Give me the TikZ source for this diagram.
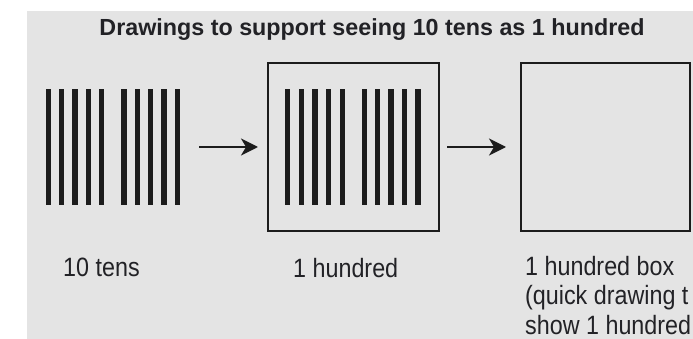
\documentclass[tikz,border=0pt]{standalone}
\usepackage{fontspec}
\setmainfont{Liberation Sans}
\newfontfamily\condfont[FakeStretch=0.88]{Liberation Sans}
\usetikzlibrary{arrows.meta}
\definecolor{bgc}{RGB}{228,228,228}
\definecolor{ink}{RGB}{28,28,28}
\definecolor{txt}{RGB}{34,34,38}
\tikzset{
  bar/.style={fill=ink},
  hbox/.style={draw=ink, line width=2pt, minimum height=168pt, inner sep=0pt, outer sep=0pt},
  arr/.style={draw=ink, line width=2pt, -{Stealth[length=17pt,width=17pt,inset=5pt]}},
  lbl/.style={text=txt, inner sep=0pt, anchor=base west, font=\condfont\fontsize{26.5}{29.5}\selectfont},
  ttl/.style={text=txt, inner sep=0pt, anchor=base, font=\bfseries\fontsize{23.3}{28}\selectfont}
}
\begin{document}
\begin{tikzpicture}[x=1pt,y=-1pt]
\useasboundingbox (0,0) rectangle (693,339);
\fill[bgc] (26.5,11) rectangle (693,339);
\node[ttl] (title) at (372,36) {Drawings to support seeing 10 tens as 1 hundred};
% 10 tens
\node[inner sep=0pt, outer sep=0pt, minimum width=135pt, minimum height=116pt] (tens) at (113,147) {};
\foreach \x in {48.3,61.7,75,88.3,101.7,124,137.3,150.7,164,177.3}
  \fill[bar] (\x-2.75,89) rectangle (\x+2.75,205);
% 1 hundred box with bars
\node[hbox, minimum width=171pt] (box1) at (353.5,147) {};
\foreach \x in {287.7,301.3,315,328.7,342.3,364.3,377.7,391,404.3,418}
  \fill[bar] (\x-2.75,89) rectangle (\x+2.75,205);
% empty hundred box
\node[hbox, minimum width=169pt] (box2) at (605.5,147) {};
% arrows
\draw[arr, shorten <=18.5pt, shorten >=10pt] (tens.east) -- (box1.west);
\draw[arr, shorten <=8pt, shorten >=15pt] (box1.east) -- (box2.west);
% labels
\node[lbl] (l1) at (63,276) {10 tens};
\node[lbl] (l2) at (293,277) {1 hundred};
\node[lbl] (l3a) at (525,275) {1 hundred box};
\node[lbl] (l3b) at (525,304.5) {(quick drawing t};
\node[lbl] (l3c) at (525,334) {show 1 hundred};
\end{tikzpicture}
\end{document}
